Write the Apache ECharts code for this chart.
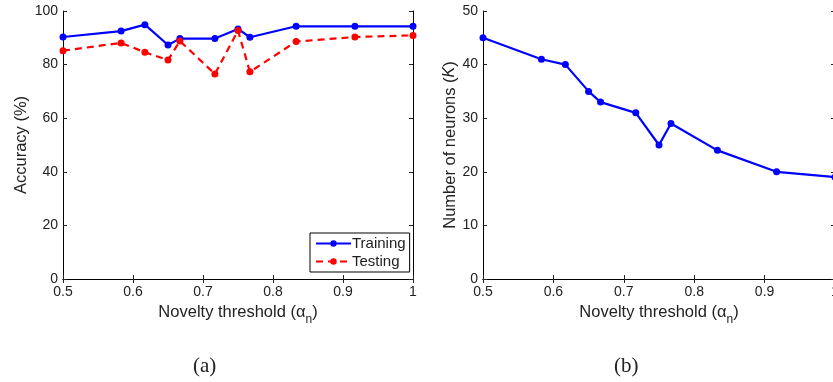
<!DOCTYPE html>
<html>
<head>
<meta charset="utf-8">
<script src="https://cdn.jsdelivr.net/npm/echarts@6/dist/echarts.min.js"></script>
<style>
  html, body { margin: 0; padding: 0; background: #fff; }
  #chart { width: 833px; height: 382px; }
</style>
</head>
<body>
<div id="chart"></div>
<script>
// novelty threshold values (shared x for both panels)
const thresholds = [0.5, 0.583, 0.617, 0.65, 0.667, 0.717, 0.75, 0.767, 0.833, 0.917, 1.0]
const trainingAcc = [90.3, 92.5, 94.9, 87.3, 89.7, 89.7, 93.3, 90.2, 94.3, 94.3, 94.3]
const testingAcc = [85.2, 88.1, 84.6, 81.7, 88.8, 76.5, 92.7, 77.3, 88.6, 90.3, 90.9]
const neurons = [45, 41, 40, 35, 33, 31, 25, 29, 24, 20, 19]

const pairs = (ys) => thresholds.map((x, i) => [x, ys[i]])

const font = 'Liberation Sans, Arial, sans-serif'
const labelStyle = { color: '#222', fontSize: 14, fontFamily: font }
const axisLine = { show: true, lineStyle: { color: '#000', width: 1 } }
const tick = { show: true, inside: true, length: 4, lineStyle: { color: '#222' } }

const xName = 'Novelty threshold (α{sub|n})'
const nameRich = {
  sub: { fontSize: 12, fontFamily: font, color: '#222', padding: [14, 0, 0, 0] },
  it: { fontSize: 16, fontFamily: font, color: '#222', fontStyle: 'italic' }
}

function bottomX(gridIndex) {
  return {
    gridIndex, type: 'value', min: 0.5, max: 1, interval: 0.1, position: 'bottom',
    axisLine, axisTick: tick, splitLine: { show: false },
    axisLabel: { ...labelStyle, margin: 6, formatter: (v) => String(+v.toFixed(1)) },
    name: xName, nameLocation: 'middle', nameGap: 12,
    nameTextStyle: { color: '#222', fontSize: 16.5, fontFamily: font, rich: nameRich }
  }
}
function topX(gridIndex) {
  return {
    gridIndex, type: 'value', min: 0.5, max: 1, interval: 0.1, position: 'top',
    axisLine, axisTick: tick, axisLabel: { show: false }, splitLine: { show: false }
  }
}
function leftY(gridIndex, max, interval, name, gap) {
  return {
    gridIndex, type: 'value', min: 0, max, interval, position: 'left',
    axisLine, axisTick: tick, splitLine: { show: false },
    axisLabel: { ...labelStyle, margin: 5 },
    name, nameLocation: 'middle', nameRotate: 90, nameGap: gap,
    nameTextStyle: { color: '#222', fontSize: 16.5, fontFamily: font, rich: nameRich }
  }
}
function rightY(gridIndex, max, interval) {
  return {
    gridIndex, type: 'value', min: 0, max, interval, position: 'right',
    axisLine, axisTick: tick, axisLabel: { show: false }, splitLine: { show: false }
  }
}

const chart = echarts.init(document.getElementById('chart'))
chart.setOption({
  animation: false,
  backgroundColor: '#fff',
  grid: [
    { left: 63, top: 11, width: 350, height: 268, outerBoundsMode: 'none' },
    { left: 483, top: 11, width: 352, height: 268, outerBoundsMode: 'none' }
  ],
  xAxis: [bottomX(0), topX(0), bottomX(1), topX(1)],
  yAxis: [
    leftY(0, 100, 20, 'Accuracy (%)', 33), rightY(0, 100, 20),
    leftY(1, 50, 10, 'Number of neurons ({it|K})', 24), rightY(1, 50, 10)
  ],
  legend: {
    data: ['Training', 'Testing'],
    orient: 'vertical',
    left: 310, top: 233,
    backgroundColor: '#fff',
    borderColor: '#000', borderWidth: 1, borderRadius: 0,
    padding: [3, 4, 3, 5],
    itemGap: 3, itemWidth: 35, itemHeight: 8,
    textStyle: { color: '#222', fontSize: 15, fontFamily: font, padding: [0, 0, 0, -4] }
  },
  series: [
    {
      name: 'Training', type: 'line', xAxisIndex: 0, yAxisIndex: 0,
      data: pairs(trainingAcc),
      symbol: 'circle', symbolSize: 7,
      lineStyle: { color: '#0000ff', width: 2.2 },
      itemStyle: { color: '#0000ff' }
    },
    {
      name: 'Testing', type: 'line', xAxisIndex: 0, yAxisIndex: 0,
      data: pairs(testingAcc),
      symbol: 'circle', symbolSize: 7,
      lineStyle: { color: '#ff0000', width: 2.2, type: [7, 5] },
      itemStyle: { color: '#ff0000' }
    },
    {
      name: 'Neurons', type: 'line', xAxisIndex: 2, yAxisIndex: 2,
      data: pairs(neurons),
      symbol: 'circle', symbolSize: 7,
      lineStyle: { color: '#0000ff', width: 2.2 },
      itemStyle: { color: '#0000ff' }
    }
  ],
  graphic: [
    { type: 'text', left: 193, top: 356, style: { text: '(a)', fontSize: 21, fontFamily: 'Liberation Serif, DejaVu Serif, serif', fill: '#222' } },
    { type: 'text', left: 614, top: 356, style: { text: '(b)', fontSize: 21, fontFamily: 'Liberation Serif, DejaVu Serif, serif', fill: '#222' } }
  ]
})
</script>
</body>
</html>
